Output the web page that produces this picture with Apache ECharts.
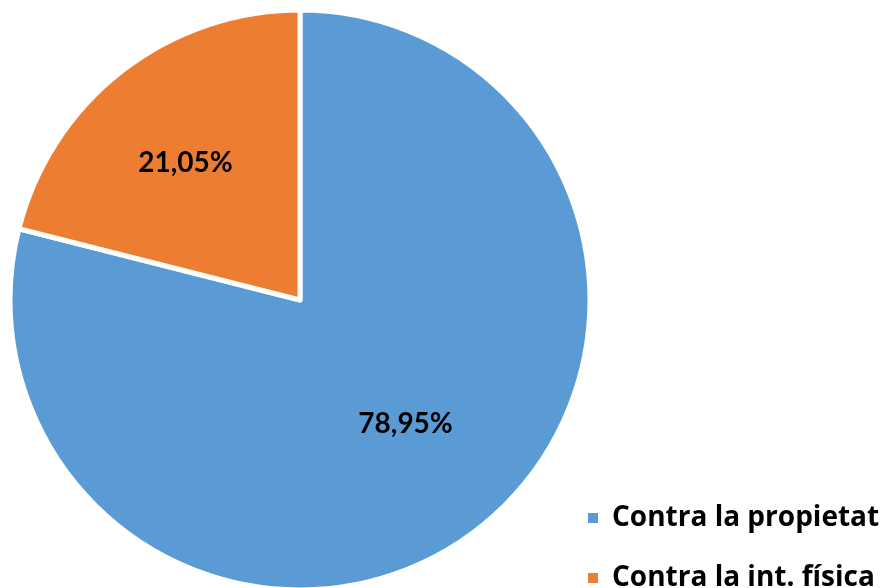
<!DOCTYPE html>
<html>
<head>
<meta charset="utf-8">
<script src="https://cdn.jsdelivr.net/npm/echarts@6/dist/echarts.min.js"></script>
<style>
  html, body { margin: 0; padding: 0; background: #fff; }
  #chart { width: 894px; height: 588px; }
</style>
</head>
<body>
<div id="chart"></div>
<script>
const categories = ['Contra la propietat', 'Contra la int. física'];
const values = [78.95, 21.05];
const colors = ['#5B9BD5', '#ED7D31'];

const chartDom = document.getElementById('chart');
const myChart = echarts.init(chartDom);

const radius = 290;
const total = values.reduce((a, b) => a + b, 0);
// label distance from centre, as a share of the radius (default inside is 0.5)
const labelPos = [0.56, 0.61];

const midAngle = (i) => {
  let before = 0;
  for (let k = 0; k < i; k++) before += values[k];
  return (90 - (before + values[i] / 2) / total * 360) * Math.PI / 180;
};

// one legend per row, so the rows never wrap into a second column
const legendRow = (name, top) => ({
  orient: 'vertical',
  left: 581,
  top: top,
  itemWidth: 12,
  itemHeight: 12,
  icon: 'rect',
  data: [name],
  textStyle: {
    fontFamily: 'Open Sans',
    fontWeight: 'bold',
    fontSize: 28,
    color: '#000',
    padding: [0, 0, 0, 8]
  }
});

const option = {
  animation: false,
  color: colors,
  legend: categories.map((name, i) => legendRow(name, 499 + i * 60)),
  series: [
    {
      type: 'pie',
      center: [300, 300],
      radius: radius,
      startAngle: 90,
      clockwise: true,
      itemStyle: { borderColor: '#fff', borderWidth: 5 },
      label: {
        show: true,
        position: 'inside',
        formatter: (p) => p.value.toFixed(2).replace('.', ',') + '%',
        fontFamily: 'Lato',
        fontWeight: 'bold',
        fontSize: 28,
        color: '#000'
      },
      labelLayout: (params) => {
        const i = params.dataIndex;
        const a = midAngle(i);
        const extra = (labelPos[i] - 0.5) * radius;
        return { dx: Math.cos(a) * extra + (i === 0 ? 4 : -4), dy: -Math.sin(a) * extra + (i === 0 ? -7 : 5) };
      },
      labelLine: { show: false },
      emphasis: { disabled: true },
      data: categories.map((name, i) => ({ name: name, value: values[i] }))
    }
  ]
};

myChart.setOption(option);
</script>
</body>
</html>
